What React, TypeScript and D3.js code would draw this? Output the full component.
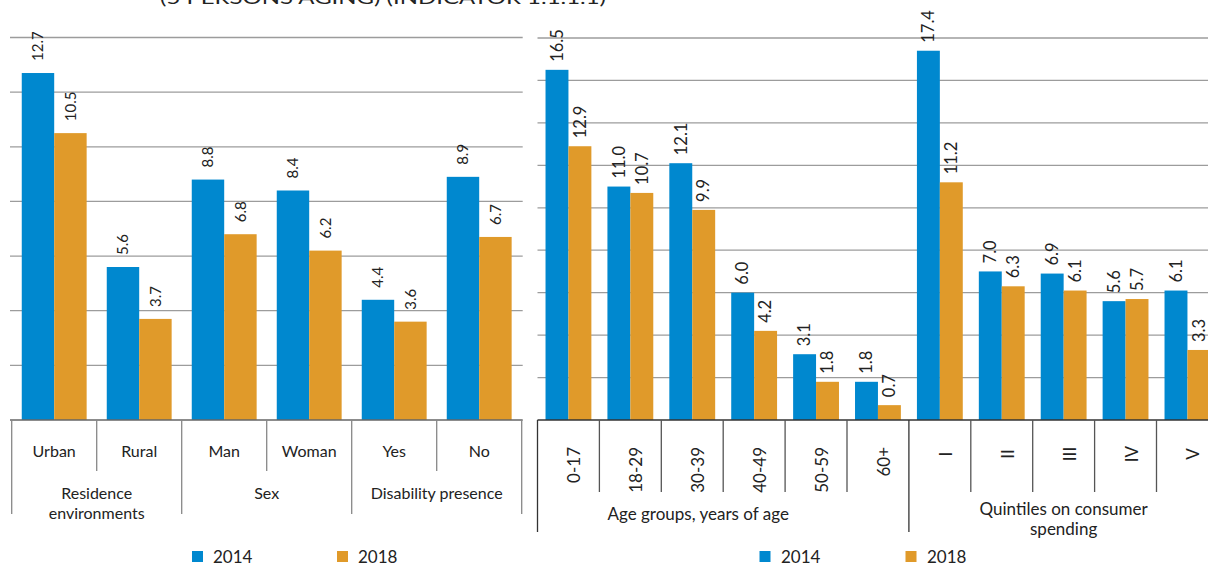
import React from 'react';
import * as d3 from 'd3';

// ---------- data ----------
const seriesNames = ['2014', '2018'];
const seriesColors = ['#0088CF', '#E09A2A'];

const leftCats = ['Urban', 'Rural', 'Man', 'Woman', 'Yes', 'No'];
const left2014 = [12.7, 5.6, 8.8, 8.4, 4.4, 8.9];
const left2018 = [10.5, 3.7, 6.8, 6.2, 3.6, 6.7];
const leftGroupLabels = [['Residence', 'environments'], ['Sex'], ['Disability presence']];
const leftGroupSizes = [2, 2, 2];
const leftTicks = [0, 2, 4, 6, 8, 10, 12, 14];

const rightCats = ['0-17', '18-29', '30-39', '40-49', '50-59', '60+', 'I', 'II', 'III', 'IV', 'V'];
const right2014 = [16.5, 11.0, 12.1, 6.0, 3.1, 1.8, 17.4, 7.0, 6.9, 5.6, 6.1];
const right2018 = [12.9, 10.7, 9.9, 4.2, 1.8, 0.7, 11.2, 6.3, 6.1, 5.7, 3.3];
const rightGroupLabels = [['Age groups, years of age'], ['Quintiles on consumer', 'spending']];
const rightGroupSizes = [6, 5];
const rightTicks = [0, 2, 4, 6, 8, 10, 12, 14, 16, 18];

const titleText = '(5 PERSONS AGING) (INDICATOR 1.1.1.1)';

const FONT = 'Lato, "Open Sans", sans-serif';
const fmt = d3.format('.1f');

export default function App() {
  const W = 1208, H = 565;
  const baseY = 420;

  // left panel scales
  const lx = d3.scaleBand<string>().domain(leftCats).range([11.7, 521.7]);
  const lx1 = d3.scaleBand<string>().domain(seriesNames).range([0, lx.bandwidth()]).paddingOuter(0.31);
  const ly = d3.scaleLinear().domain([0, 14]).range([baseY, 37.5]);

  // right panel scales
  const rx = d3.scaleBand<string>().domain(rightCats).range([537.5, 537.5 + 11 * 61.9]);
  const rx1 = d3.scaleBand<string>().domain(seriesNames).range([0, rx.bandwidth()]).paddingOuter(0.35);
  const ry = d3.scaleLinear().domain([0, 18]).range([baseY, 38]);

  const leftSeries = [left2014, left2018];
  const rightSeries = [right2014, right2018];

  const leftGroupBounds: number[] = [];
  { let i = 0; leftGroupBounds.push(i); leftGroupSizes.forEach(s => { i += s; leftGroupBounds.push(i); }); }
  const rightGroupBounds: number[] = [];
  { let i = 0; rightGroupBounds.push(i); rightGroupSizes.forEach(s => { i += s; rightGroupBounds.push(i); }); }

  const lEdge = (i: number) => (i < leftCats.length ? (lx(leftCats[i]) as number) : (lx(leftCats[leftCats.length - 1]) as number) + lx.bandwidth());
  const rEdge = (i: number) => (i < rightCats.length ? (rx(rightCats[i]) as number) : (rx(rightCats[rightCats.length - 1]) as number) + rx.bandwidth());

  return (
    <svg width={W} height={H} style={{ position: 'absolute', left: 0, top: 0, overflow: 'hidden', background: '#fff' }} fontFamily={FONT}>
      <rect x={0} y={0} width={W} height={H} fill="#fff" />
      {/* clipped title */}
      <text x={160} y={4} fontSize={18} fill="#222" textLength={446} lengthAdjust="spacingAndGlyphs">{titleText}</text>

      {/* ---------- LEFT PANEL ---------- */}
      <g>
        {leftTicks.filter(t => t > 0).map(t => (
          <line key={t} x1={10} x2={522.7} y1={ly(t)} y2={ly(t)} stroke="#9c9c9c" strokeWidth={1.3} />
        ))}
        {leftCats.map((c, i) => seriesNames.map((s, j) => {
          const v = leftSeries[j][i];
          const x = (lx(c) as number) + (lx1(s) as number);
          return <rect key={c + s} x={x} y={ly(v)} width={lx1.bandwidth()} height={baseY - ly(v)} fill={seriesColors[j]} />;
        }))}
        {leftCats.map((c, i) => seriesNames.map((s, j) => {
          const v = leftSeries[j][i];
          const cx = (lx(c) as number) + (lx1(s) as number) + lx1.bandwidth() / 2;
          const y = ly(v) - 12;
          return (
            <text key={'l' + c + s} transform={`translate(${cx},${y}) rotate(-90)`} dy="0.35em" fontSize={15} fill="#222">{fmt(v)}</text>
          );
        }))}
        <line x1={10} x2={522.7} y1={baseY} y2={baseY} stroke="#666" strokeWidth={1.3} />
        {d3.range(leftCats.length + 1).map(i => {
          const isOuter = leftGroupBounds.includes(i);
          return <line key={'ls' + i} x1={lEdge(i)} x2={lEdge(i)} y1={baseY} y2={isOuter ? 514 : 471} stroke="#888" strokeWidth={1.3} />;
        })}
        {leftCats.map(c => (
          <text key={'lc' + c} x={(lx(c) as number) + lx.bandwidth() / 2} y={457} textAnchor="middle" fontSize={16} fill="#222">{c}</text>
        ))}
        {leftGroupLabels.map((lines, g) => {
          const cx = (lEdge(leftGroupBounds[g]) + lEdge(leftGroupBounds[g + 1])) / 2;
          return lines.map((ln, k) => (
            <text key={'lg' + g + k} x={cx} y={499 + k * 19.5} textAnchor="middle" fontSize={16} fill="#222">{ln}</text>
          ));
        })}
        {seriesNames.map((s, j) => (
          <g key={'ll' + s}>
            <rect x={192 + j * 145} y={551} width={11} height={11} fill={seriesColors[j]} />
            <text x={213 + j * 145} y={562.5} fontSize={17} fill="#222">{s}</text>
          </g>
        ))}
      </g>

      {/* ---------- RIGHT PANEL ---------- */}
      <g>
        {rightTicks.filter(t => t > 0).map(t => (
          <line key={t} x1={537.5} x2={W} y1={ry(t)} y2={ry(t)} stroke="#9c9c9c" strokeWidth={1.3} />
        ))}
        {rightCats.map((c, i) => seriesNames.map((s, j) => {
          const v = rightSeries[j][i];
          const x = (rx(c) as number) + (rx1(s) as number);
          return <rect key={c + s} x={x} y={ry(v)} width={rx1.bandwidth()} height={baseY - ry(v)} fill={seriesColors[j]} />;
        }))}
        {rightCats.map((c, i) => seriesNames.map((s, j) => {
          const v = rightSeries[j][i];
          const cx = (rx(c) as number) + (rx1(s) as number) + rx1.bandwidth() / 2;
          const y = ry(v) - 8;
          return (
            <text key={'r' + c + s} transform={`translate(${cx},${y}) rotate(-90)`} dy="0.35em" fontSize={16.5} fill="#222">{fmt(v)}</text>
          );
        }))}
        <line x1={537.5} x2={W} y1={baseY} y2={baseY} stroke="#333" strokeWidth={1.3} />
        {d3.range(rightCats.length + 1).map(i => {
          const isOuter = rightGroupBounds.includes(i);
          return <line key={'rs' + i} x1={rEdge(i)} x2={rEdge(i)} y1={baseY} y2={isOuter ? 532 : 492} stroke={isOuter ? '#333' : '#555'} strokeWidth={1.3} />;
        })}
        {rightCats.map((c, i) => {
          const cx = (rx(c) as number) + rx.bandwidth() / 2 + 6;
          const isAge = i < rightGroupSizes[0];
          return (
            <text key={'rc' + c} transform={`translate(${cx},${isAge ? 447 : 454}) rotate(-90)`} dy="0.35em"
              textAnchor={isAge ? 'end' : 'middle'} fontSize={17} fill="#222">{c}</text>
          );
        })}
        {rightGroupLabels.map((lines, g) => {
          let cx = (rEdge(rightGroupBounds[g]) + rEdge(rightGroupBounds[g + 1])) / 2;
          if (g === 0) cx -= 25;
          const y0 = lines.length > 1 ? 515 : 520;
          return lines.map((ln, k) => (
            <text key={'rg' + g + k} x={cx} y={y0 + k * 20} textAnchor="middle" fontSize={17} fill="#222">{ln}</text>
          ));
        })}
        {seriesNames.map((s, j) => (
          <g key={'rl' + s}>
            <rect x={759.5 + j * 146} y={551} width={11} height={11} fill={seriesColors[j]} />
            <text x={781 + j * 146} y={562.5} fontSize={17} fill="#222">{s}</text>
          </g>
        ))}
      </g>
    </svg>
  );
}
